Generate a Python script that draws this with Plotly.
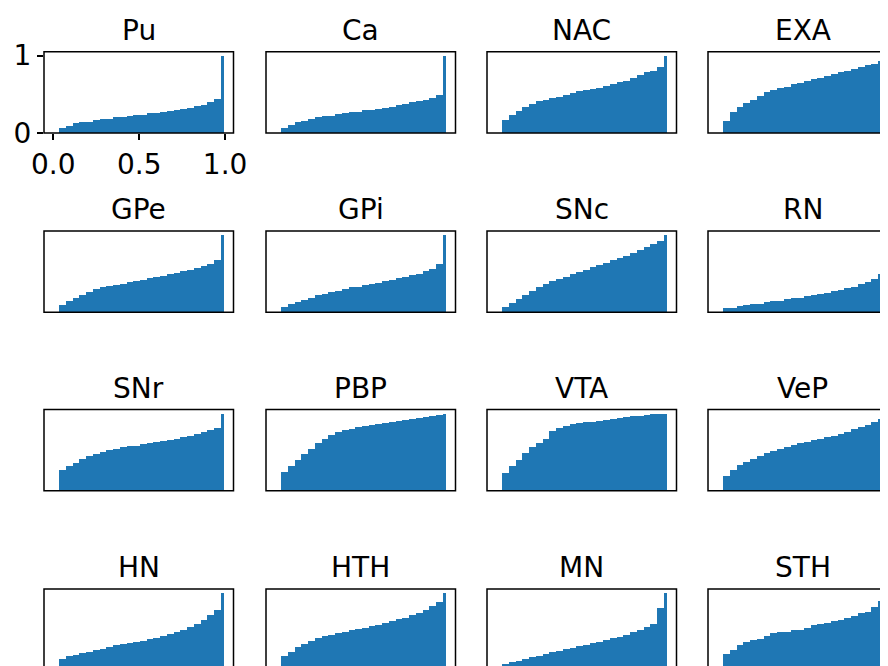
import plotly.graph_objects as go

# ---------------- data ----------------
panel_names = ["Pu", "Ca", "NAC", "EXA",
               "GPe", "GPi", "SNc", "RN",
               "SNr", "PBP", "VTA", "VeP",
               "HN", "HTH", "MN", "STH"]

bin_edges = [0.035, 0.0742, 0.1133, 0.1525, 0.1917, 0.2308, 0.27, 0.3092,
             0.3483, 0.3875, 0.4267, 0.4658, 0.505, 0.5442, 0.5833, 0.6225,
             0.6617, 0.7008, 0.74, 0.7792, 0.8183, 0.8575, 0.8967, 0.9358,
             0.975, 0.995]

cum_Pu = [0.07, 0.09, 0.13, 0.14, 0.15, 0.17, 0.18, 0.19, 0.21, 0.215, 0.225, 0.23,
          0.24, 0.255, 0.265, 0.275, 0.285, 0.30, 0.31, 0.33, 0.35, 0.37, 0.40, 0.44, 1.0]
cum_Ca = [0.07, 0.11, 0.14, 0.155, 0.185, 0.205, 0.22, 0.225, 0.245, 0.265, 0.27, 0.28,
          0.295, 0.30, 0.315, 0.33, 0.345, 0.36, 0.38, 0.40, 0.41, 0.425, 0.45, 0.49, 1.0]
cum_NAC = [0.17, 0.23, 0.29, 0.34, 0.38, 0.42, 0.43, 0.45, 0.47, 0.50, 0.52, 0.54,
           0.555, 0.575, 0.59, 0.61, 0.64, 0.66, 0.68, 0.71, 0.75, 0.79, 0.81, 0.85, 1.0]
cum_EXA = [0.155, 0.27, 0.34, 0.39, 0.435, 0.48, 0.53, 0.555, 0.585, 0.60, 0.63, 0.645,
           0.67, 0.695, 0.715, 0.735, 0.76, 0.785, 0.805, 0.83, 0.85, 0.88, 0.90, 0.935, 1.0]
cum_GPe = [0.09, 0.145, 0.19, 0.22, 0.265, 0.30, 0.32, 0.335, 0.355, 0.37, 0.39, 0.405,
           0.42, 0.44, 0.455, 0.47, 0.495, 0.51, 0.53, 0.55, 0.575, 0.60, 0.62, 0.68, 1.0]
cum_GPi = [0.07, 0.10, 0.13, 0.16, 0.19, 0.22, 0.24, 0.26, 0.28, 0.30, 0.32, 0.33,
           0.35, 0.36, 0.38, 0.40, 0.42, 0.44, 0.46, 0.48, 0.50, 0.53, 0.56, 0.62, 1.0]
cum_SNc = [0.07, 0.12, 0.17, 0.22, 0.27, 0.32, 0.36, 0.40, 0.43, 0.46, 0.49, 0.52,
           0.55, 0.58, 0.61, 0.64, 0.67, 0.70, 0.73, 0.77, 0.80, 0.84, 0.88, 0.92, 1.0]
cum_RN = [0.05, 0.06, 0.08, 0.09, 0.10, 0.11, 0.13, 0.14, 0.15, 0.17, 0.18, 0.19,
          0.21, 0.22, 0.24, 0.25, 0.27, 0.29, 0.31, 0.33, 0.36, 0.39, 0.43, 0.50, 1.0]
cum_SNr = [0.27, 0.33, 0.37, 0.41, 0.45, 0.48, 0.51, 0.53, 0.55, 0.57, 0.58, 0.59,
           0.61, 0.62, 0.63, 0.65, 0.66, 0.68, 0.70, 0.72, 0.74, 0.76, 0.79, 0.82, 1.0]
cum_PBP = [0.25, 0.33, 0.40, 0.48, 0.55, 0.62, 0.68, 0.73, 0.76, 0.79, 0.81, 0.83,
           0.84, 0.86, 0.87, 0.88, 0.90, 0.91, 0.92, 0.93, 0.95, 0.96, 0.97, 0.98, 1.0]
cum_VTA = [0.23, 0.32, 0.40, 0.50, 0.57, 0.625, 0.68, 0.775, 0.815, 0.84, 0.865, 0.88,
           0.89, 0.90, 0.91, 0.92, 0.935, 0.95, 0.96, 0.97, 0.975, 0.985, 0.995, 0.995, 1.0]
cum_VeP = [0.20, 0.28, 0.34, 0.38, 0.42, 0.46, 0.49, 0.52, 0.55, 0.57, 0.60, 0.62,
           0.64, 0.66, 0.68, 0.70, 0.72, 0.74, 0.77, 0.80, 0.83, 0.86, 0.89, 0.93, 1.0]
cum_HN = [0.15, 0.18, 0.20, 0.22, 0.24, 0.26, 0.28, 0.30, 0.32, 0.34, 0.35, 0.36,
          0.38, 0.40, 0.42, 0.44, 0.47, 0.49, 0.52, 0.56, 0.60, 0.65, 0.72, 0.78, 1.0]
cum_HTH = [0.18, 0.24, 0.30, 0.34, 0.38, 0.41, 0.44, 0.46, 0.48, 0.50, 0.52, 0.53,
           0.55, 0.57, 0.59, 0.61, 0.63, 0.66, 0.68, 0.71, 0.74, 0.78, 0.83, 0.88, 1.0]
cum_MN = [0.08, 0.10, 0.12, 0.15, 0.17, 0.19, 0.21, 0.23, 0.25, 0.27, 0.29, 0.31,
          0.33, 0.35, 0.37, 0.39, 0.41, 0.43, 0.46, 0.49, 0.52, 0.56, 0.60, 0.80, 1.0]
cum_STH = [0.215, 0.265, 0.32, 0.36, 0.39, 0.40, 0.44, 0.475, 0.49, 0.495, 0.525, 0.525,
           0.55, 0.585, 0.60, 0.61, 0.64, 0.655, 0.68, 0.70, 0.735, 0.755, 0.82, 0.90, 1.0]

panel_values = [cum_Pu, cum_Ca, cum_NAC, cum_EXA,
                cum_GPe, cum_GPi, cum_SNc, cum_RN,
                cum_SNr, cum_PBP, cum_VTA, cum_VeP,
                cum_HN, cum_HTH, cum_MN, cum_STH]

x_tick_vals = [0.0, 0.5, 1.0]
x_tick_text = ["0.0", "0.5", "1.0"]
y_tick_vals = [0, 1]
y_tick_text = ["0", "1"]

# ---------------- layout geometry (pixels, screen coords) ----------------
PAGE_OFF = 8                      # default body margin of the html page
FW, FH = 888 - PAGE_OFF, 666 - PAGE_OFF
col_left = [44, 266, 487, 708]
row_top = [51.8, 231, 409.5, 589]
PW, PH = 189.5, 81.2
XR = [-0.054, 1.049]
YR = [0.0, 1.05]
BLUE = "#1f77b4"
FONT = "DejaVu Sans"
TICK_SIZE = 28
TITLE_SIZE = 28

centers = [(bin_edges[i] + bin_edges[i + 1]) / 2 for i in range(len(bin_edges) - 1)]
widths = [bin_edges[i + 1] - bin_edges[i] for i in range(len(bin_edges) - 1)]

fig = go.Figure()
shapes = []
annotations = []

for k, (name, vals) in enumerate(zip(panel_names, panel_values)):
    r, c = divmod(k, 4)
    idx = "" if k == 0 else str(k + 1)
    xa, ya = "x" + idx, "y" + idx

    left, top = col_left[c] - PAGE_OFF, row_top[r] - PAGE_OFF
    right, bottom = left + PW, top + PH

    vr = min(right, FW)
    vb = min(bottom, FH)
    xdom = [left / FW, vr / FW]
    ydom = [1 - vb / FH, 1 - top / FH]
    xr = [XR[0], XR[0] + (XR[1] - XR[0]) * (vr - left) / PW]
    yr = [YR[1] - (YR[1] - YR[0]) * (vb - top) / PH, YR[1]]

    fig.add_trace(go.Bar(x=centers, y=vals, width=widths, marker=dict(color=BLUE, line=dict(width=0)),
                         xaxis=xa, yaxis=ya, showlegend=False, hoverinfo="skip"))

    xax = dict(domain=xdom, range=xr, showgrid=False, zeroline=False, showline=False,
               anchor=ya, fixedrange=True, automargin=False)
    yax = dict(domain=ydom, range=yr, showgrid=False, zeroline=False, showline=False,
               anchor=xa, fixedrange=True, automargin=False)
    if k == 0:
        xax.update(tickmode="array", tickvals=x_tick_vals, ticktext=x_tick_text, ticks="outside",
                   ticklen=6, tickwidth=1.5, tickcolor="black", showticklabels=True,
                   tickfont=dict(family=FONT, size=TICK_SIZE, color="black"))
        yax.update(tickmode="array", tickvals=y_tick_vals, ticktext=y_tick_text, ticks="outside",
                   ticklen=6, tickwidth=1.5, tickcolor="black", showticklabels=True,
                   tickfont=dict(family=FONT, size=TICK_SIZE, color="black"))
    else:
        xax.update(showticklabels=False, ticks="")
        yax.update(showticklabels=False, ticks="")
    fig.layout["xaxis" + idx] = xax
    fig.layout["yaxis" + idx] = yax

    shapes.append(dict(type="rect", xref="paper", yref="paper",
                       x0=left / FW, x1=right / FW, y0=1 - bottom / FH, y1=1 - top / FH,
                       line=dict(color="black", width=1.5), fillcolor="rgba(0,0,0,0)", layer="above"))
    annotations.append(dict(text=name, xref="paper", yref="paper", x=(left + PW / 2) / FW,
                            y=1 - top / FH, xanchor="center", yanchor="bottom", yshift=3,
                            showarrow=False, font=dict(family=FONT, size=TITLE_SIZE, color="black")))

fig.update_layout(width=FW, height=FH, margin=dict(l=0, r=0, t=0, b=0, autoexpand=False),
                  paper_bgcolor="white", plot_bgcolor="white", bargap=0,
                  shapes=shapes, annotations=annotations, font=dict(family=FONT))

fig.write_html("out.html")
